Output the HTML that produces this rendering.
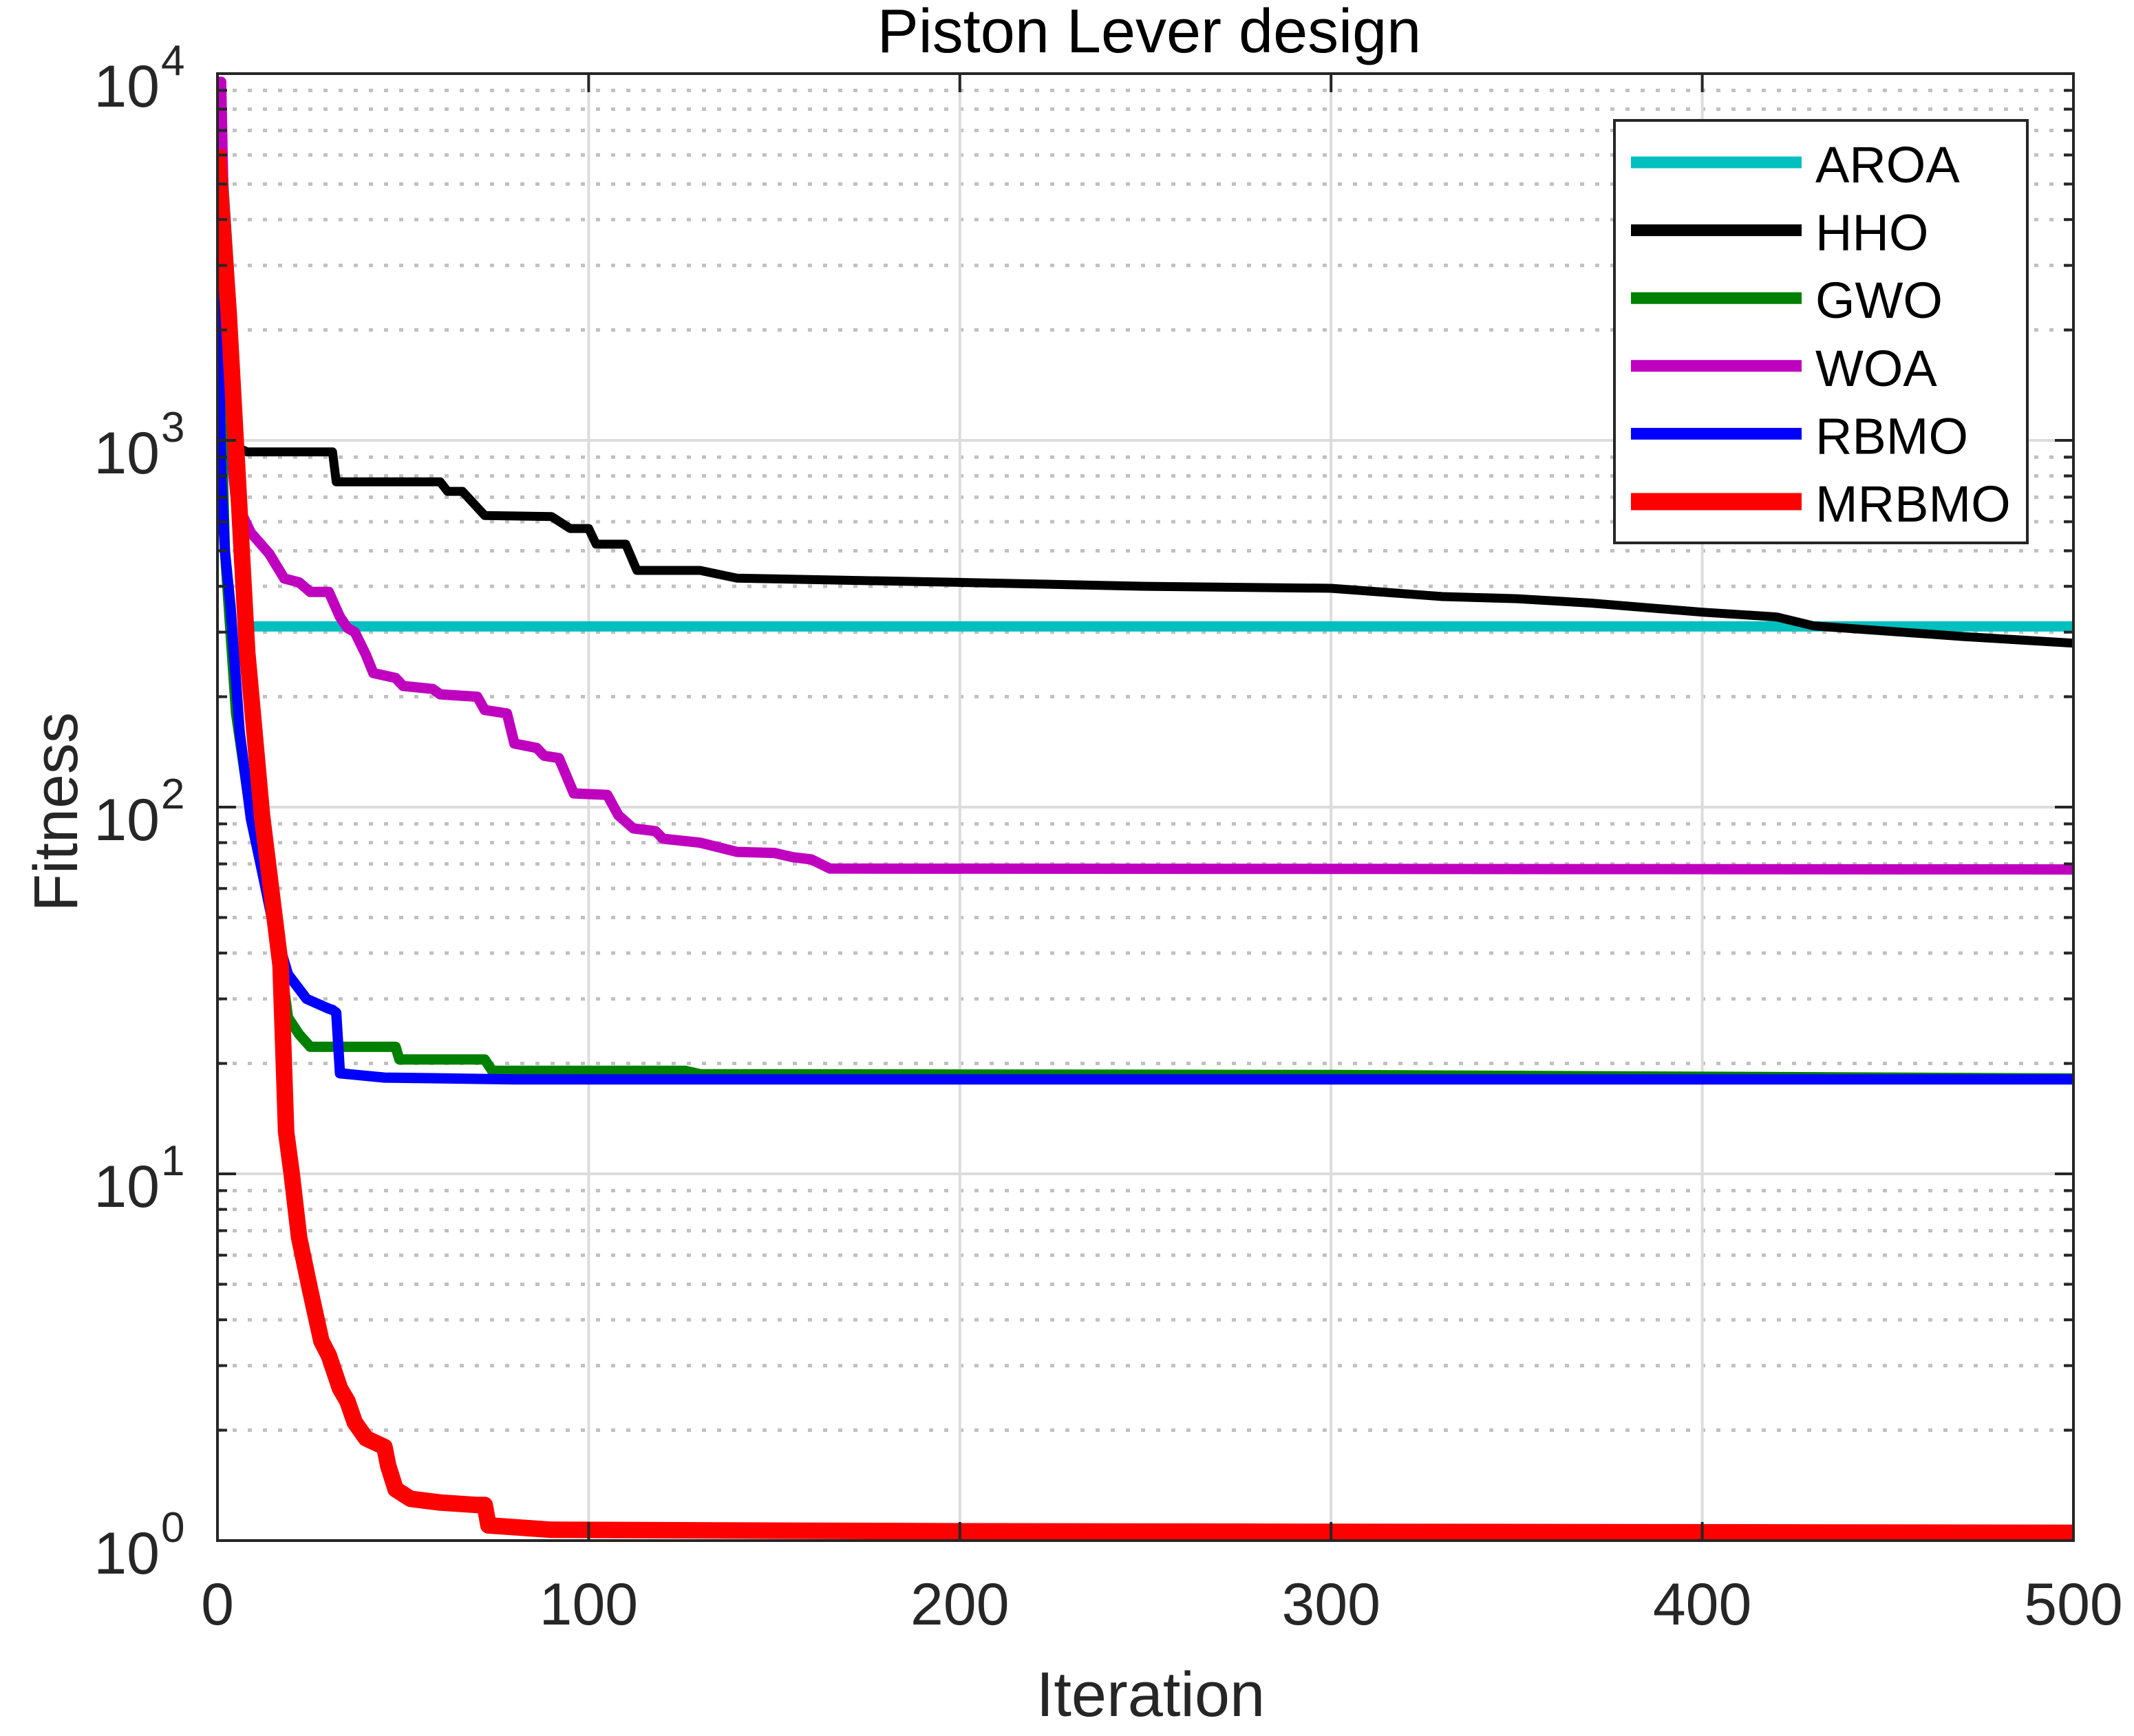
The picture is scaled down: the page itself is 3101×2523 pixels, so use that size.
<!DOCTYPE html>
<html><head><meta charset="utf-8"><style>
html,body{margin:0;padding:0;background:#fff;}
svg{display:block;font-family:"Liberation Sans",Arial,sans-serif;}
</style></head><body>
<svg id="chart" width="3101" height="2523" viewBox="0 0 3101 2523" xmlns="http://www.w3.org/2000/svg">
<rect width="3101" height="2523" fill="#fff"/>
<g id="grid"></g>
<g id="series" clip-path="url(#clip)"></g>
<defs><clipPath id="clip"><rect x="316" y="107" width="2697" height="2132"/></clipPath></defs>
<g id="axes"></g>
<text x="1670" y="76" font-size="90" text-anchor="middle" fill="#000">Piston Lever design</text>
<text x="1672" y="2494" font-size="92" text-anchor="middle" fill="#262626">Iteration</text>
<text transform="translate(112,1180) rotate(-90)" font-size="90" text-anchor="middle" fill="#262626">Fitness</text>
<g id="legend"></g>
</svg>
<script>
const xTicks = [0,100,200,300,400,500];
const yDecades = [0,1,2,3,4];
const seriesNames = ["AROA","HHO","GWO","WOA","RBMO","MRBMO"];
const aroaIter = [0,3,6,8,500];
const aroaVal  = [9000,3000,800,311,311];
const hhoIter = [0,1,3,5,8,31,32,60,62,66,72,90,95,100,102,110,113,130,140,200,250,300,330,350,370,400,420,430,470,500];
const hhoVal  = [3000,1800,1050,960,930,930,771,771,726,726,624,620,575,575,521,521,442,442,421,410,400,395,375,370,360,340,330,312,292,280];
const gwoIter = [0,2,5,9,13,17,19,22,25,48,49,72,74,126,130,300,500];
const gwoVal  = [3000,500,180,95,60,38,26.7,24,22.2,22.2,20.5,20.5,19.1,19.1,18.7,18.6,18.2];
const woaIter = [0,1,2,3,5,9,14,18,22,25,30,33,35,37,40,42,48,50,58,60,70,72,78,80,86,88,92,96,105,108,112,118,120,130,140,150,155,160,165,500];
const woaVal  = [9500,9500,3000,1100,680,560,490,420,410,386,386,330,308,300,260,232,225,214,210,203,200,184,180,149,145,138,136,109,108,95,87.5,86,82,80,75.5,75,73,72,68,67.6];
const rbmoIter = [0,1,2,3.5,6,9,12,15,19,24,30,31,32,33,45,80,500];
const rbmoVal  = [3000,800,500,355,160,93,67,48,35,30,28.2,28,27.5,18.8,18.3,18.1,18.1];
const mrbmoIter = [0,3,5,8,12,17,18.5,20,22,25,28,30,33,35,37,40,45,46,48,52,60,70,72,73,90,200,500];
const mrbmoVal  = [6200,2240,960,265,95,37,13,10,6.7,4.8,3.5,3.2,2.6,2.4,2.1,1.9,1.8,1.6,1.38,1.3,1.27,1.25,1.25,1.1,1.07,1.06,1.05];

const L=316,R=3013,T=107,B=2239;
const NS='http://www.w3.org/2000/svg';
function xs(v){return L+(v-0)/(500-0)*(R-L);}
function ys(v){return B-(Math.log10(v)-0)/(4-0)*(B-T);}
function el(tag,attrs,parent){const e=document.createElementNS(NS,tag);for(const k in attrs)e.setAttribute(k,attrs[k]);parent.appendChild(e);return e;}
const grid=document.getElementById('grid'),axes=document.getElementById('axes'),ser=document.getElementById('series'),leg=document.getElementById('legend');

for(let d=0;d<4;d++){for(let m=2;m<=9;m++){const y=ys(m*Math.pow(10,d));
 const g=el('line',{x1:L,x2:R,y1:y,y2:y,stroke:'#c0c0c0','stroke-width':5,'stroke-dasharray':'6 16'},grid);
 
 
 el('line',{x1:L,x2:L+14,y1:y,y2:y,stroke:'#262626','stroke-width':4},axes);
 el('line',{x1:R,x2:R-14,y1:y,y2:y,stroke:'#262626','stroke-width':4},axes);}}
yDecades.forEach(d=>{const y=ys(Math.pow(10,d));
 const g=el('line',{x1:L,x2:R,y1:y,y2:y,stroke:'#dcdcdc','stroke-width':4},grid);
 
 
 el('line',{x1:L,x2:L+27,y1:y,y2:y,stroke:'#262626','stroke-width':4},axes);
 el('line',{x1:R,x2:R-27,y1:y,y2:y,stroke:'#262626','stroke-width':4},axes);
 const t=el('text',{x:L-84,y:y+48,'font-size':86,'text-anchor':'end',fill:'#262626'},axes);
 t.textContent='10';
 
 
 const e=el('text',{x:L-82,y:y+2,'font-size':62,fill:'#262626'},axes);
 e.textContent=String(d);
 
 
});
xTicks.forEach(v=>{const x=xs(v);
 const g=el('line',{x1:x,x2:x,y1:T,y2:B,stroke:'#dcdcdc','stroke-width':4},grid);
 
 
 el('line',{x1:x,x2:x,y1:B,y2:B-27,stroke:'#262626','stroke-width':4},axes);
 el('line',{x1:x,x2:x,y1:T,y2:T+27,stroke:'#262626','stroke-width':4},axes);
 const t=el('text',{x:x,y:2361,'font-size':86,'text-anchor':'middle',fill:'#262626'},axes);
 t.textContent=String(v);
 
 
});
const fr=el('rect',{x:L,y:T,width:R-L,height:B-T,fill:'none',stroke:'#262626','stroke-width':4},axes);



const data=[[aroaIter,aroaVal,'#00bfbf',15],[hhoIter,hhoVal,'#000000',13],[gwoIter,gwoVal,'#008000',15],[woaIter,woaVal,'#bf00bf',15],[rbmoIter,rbmoVal,'#0000ff',15],[mrbmoIter,mrbmoVal,'#ff0000',24]];
const order=[0,1,3,2,4,5];
order.forEach(i=>{const [it,vl,c,w]=data[i];
 const pts=it.map((x,k)=>xs(x).toFixed(1)+','+ys(vl[k]).toFixed(1)).join(' ');
 const p=el('polyline',{points:pts,fill:'none',stroke:c,'stroke-width':w,'stroke-linejoin':'round'},ser);
 
 
});
const lb=el('rect',{x:2346,y:175,width:600,height:614,fill:'#fff',stroke:'#262626','stroke-width':4},leg);


seriesNames.forEach((n,i)=>{const cy=236+i*98.6;const [,,c,w]=data[i];
 const ln=el('line',{x1:2370,x2:2618,y1:cy,y2:cy,stroke:c,'stroke-width':i==5?25:17},leg);
 
 
 const t=el('text',{x:2638,y:cy+29,'font-size':74,fill:'#000'},leg);
 t.textContent=n;
 
 
});
</script>
</body></html>
